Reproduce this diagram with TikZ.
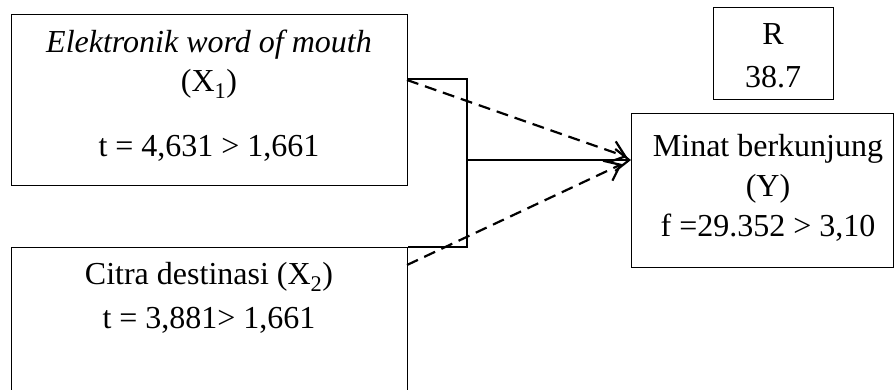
\documentclass[tikz,border=0pt]{standalone}
\usepackage{fontspec}
\setmainfont{Liberation Serif}
\usetikzlibrary{arrows.meta}

\begin{document}
\begin{tikzpicture}[x=1pt,y=-1pt,
  box/.style={draw,line width=1.2pt,inner sep=0pt,anchor=north west},
  lbl/.style={font=\fontsize{32}{40}\selectfont,inner sep=0pt,anchor=base},
  link/.style={line width=2.2pt,-{Straight Barb[length=14pt,width=22pt,line width=2.2pt]}},
  dashlink/.style={link,dash pattern=on 12pt off 7pt}
]
\useasboundingbox (0,0) rectangle (895,390);
\clip (0,0) rectangle (895,390);

% variable boxes
\node[box,minimum width=396pt,minimum height=171pt] (x1) at (11,14) {};
\node[box,minimum width=396pt,minimum height=160pt] (x2) at (11,247) {};
\node[box,minimum width=262pt,minimum height=154pt] (y) at (631,113) {};
\node[box,minimum width=120pt,minimum height=92pt] (r) at (713,7) {};

% box texts
\node[lbl] (x1a) at (209,53) {\textit{Elektronik word of mouth}};
\node[lbl] (x1b) at (209,92) {(X\textsubscript{1})};
\node[lbl] (x1c) at (209,157) {t = 4,631 > 1,661};
\node[lbl] (x2a) at (209,285) {Citra destinasi (X\textsubscript{2})};
\node[lbl] (x2b) at (209,328) {t = 3,881> 1,661};
\node[lbl] (ya) at (768,157) {Minat berkunjung};
\node[lbl] (yb) at (768,197) {(Y)};
\node[lbl] (yc) at (768,237) {f =29.352 > 3,10};
\node[lbl] (ra) at (773,45) {R};
\node[lbl] (rb) at (773,88) {38.7};

% bracket joining both predictors
\coordinate (b1) at (407,79);
\coordinate (b3) at (467,247);
\draw[line width=1.2pt] (b1) -| (b3) -- (x2.north east);

% simultaneous effect
\coordinate (hub) at (467,160);
\draw[link] (hub) -- (hub -| y.west);

% partial effects
\coordinate (d1) at (407,80);
\coordinate (e1) at (627,157);
\coordinate (d2) at (407,265);
\coordinate (e2) at (622,164);
\draw[dashlink] (d1) -- (e1);
\draw[dashlink] (d2) -- (e2);
\end{tikzpicture}
\end{document}
